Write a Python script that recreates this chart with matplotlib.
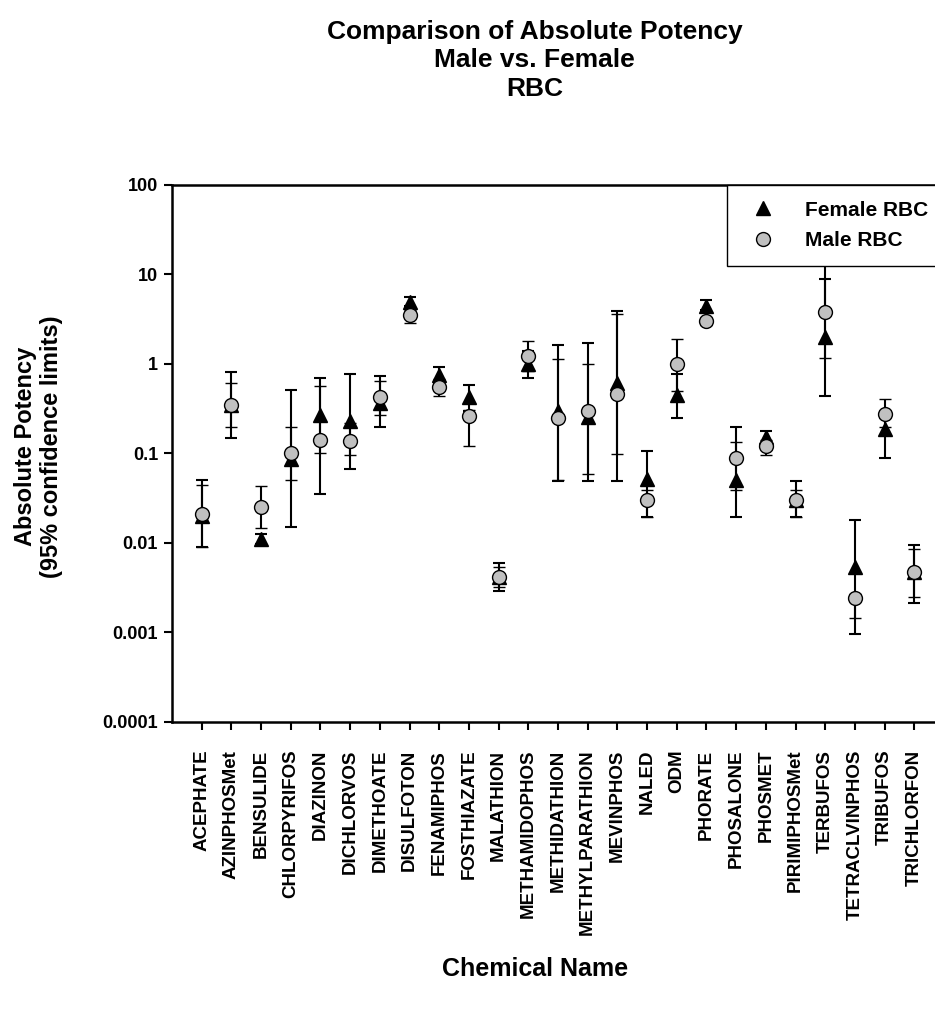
import matplotlib
matplotlib.use("Agg")
import matplotlib.pyplot as plt
from matplotlib.lines import Line2D
import numpy as np

plt.rcParams['font.family'] = ['Liberation Sans', 'DejaVu Sans']
plt.rcParams['font.weight'] = 'bold'

# chemicals on the x axis
chemicals = ["ACEPHATE", "AZINPHOSMet", "BENSULIDE", "CHLORPYRIFOS", "DIAZINON",
             "DICHLORVOS", "DIMETHOATE", "DISULFOTON", "FENAMIPHOS", "FOSTHIAZATE",
             "MALATHION", "METHAMIDOPHOS", "METHIDATHION", "METHYLPARATHION", "MEVINPHOS",
             "NALED", "ODM", "PHORATE", "PHOSALONE", "PHOSMET",
             "PIRIMIPHOSMet", "TERBUFOS", "TETRACLVINPHOS", "TRIBUFOS", "TRICHLORFON"]

# female RBC potency and 95% limits
female = [0.020, 0.35, 0.0112, 0.087, 0.27,
          0.233, 0.367, 4.9, 0.76, 0.43,
          0.0042, 1.0, 0.30, 0.254, 0.62,
          0.052, 0.45, 4.5, 0.050, 0.152,
          0.030, 2.0, 0.00535, 0.188, 0.0047]
female_lo = [0.009, 0.15, 0.0098, 0.015, 0.035,
             0.067, 0.20, 4.5, 0.62, 0.30,
             0.0029, 0.69, 0.049, 0.049, 0.049,
             0.0194, 0.25, 4.0, 0.0194, 0.13,
             0.0194, 0.44, 0.00096, 0.088, 0.00214]
female_hi = [0.051, 0.82, 0.0125, 0.51, 0.70,
             0.77, 0.74, 5.6, 0.92, 0.58,
             0.006, 1.41, 1.63, 1.72, 3.88,
             0.108, 0.77, 5.2, 0.196, 0.177,
             0.049, 8.9, 0.0182, 0.25, 0.0095]

# male RBC potency and 95% limits
male = [0.021, 0.35, 0.0255, 0.101, 0.142,
        0.139, 0.425, 3.5, 0.56, 0.26,
        0.0042, 1.22, 0.25, 0.296, 0.46,
        0.030, 1.0, 3.0, 0.089, 0.122,
        0.030, 3.8, 0.00243, 0.276, 0.0047]
male_lo = [0.009, 0.20, 0.0146, 0.05, 0.10,
           0.095, 0.27, 2.9, 0.435, 0.12,
           0.0032, 0.84, 0.05, 0.059, 0.099,
           0.0194, 0.50, 2.7, 0.039, 0.096,
           0.0194, 1.16, 0.00145, 0.20, 0.00251]
male_hi = [0.0445, 0.61, 0.043, 0.20, 0.57,
           0.22, 0.65, 4.0, 0.68, 0.31,
           0.00535, 1.79, 1.13, 1.0, 3.62,
           0.039, 1.9, 3.3, 0.133, 0.14,
           0.039, 14.0, 0.0027, 0.41, 0.0086]

x = np.arange(1, len(chemicals) + 1)
female = np.array(female)
male = np.array(male)
f_err = [female - np.array(female_lo), np.array(female_hi) - female]
m_err = [male - np.array(male_lo), np.array(male_hi) - male]

fig = plt.figure(figsize=(9.35, 10.11), dpi=100)
ax = fig.add_axes([0.18396, 0.28586, 0.82567, 0.53116])

ax.errorbar(x, female, yerr=f_err, fmt='^', color='black', ms=9.5,
            ecolor='black', elinewidth=1.5, capsize=4.5, capthick=1.5, zorder=3)
ax.errorbar(x, male, yerr=m_err, fmt='o', mfc='#c0c0c0', mec='black', mew=1.0, ms=10,
            ecolor='black', elinewidth=1.5, capsize=4.5, capthick=1.5, zorder=4)

ax.set_yscale('log')
ax.set_ylim(1e-4, 100)
ax.set_xlim(0, 26)
ax.set_yticks([1e-4, 1e-3, 1e-2, 1e-1, 1, 10, 100])
ax.set_yticklabels(["0.0001", "0.001", "0.01", "0.1", "1", "10", "100"])
ax.yaxis.set_minor_locator(matplotlib.ticker.NullLocator())
ax.set_xticks(x)
ax.set_xticklabels(chemicals, rotation=90, va='top', ha='center')

ax.tick_params(axis='both', direction='out', length=6, width=1.5)
ax.tick_params(axis='x', pad=14, labelsize=13.5)
ax.tick_params(axis='y', pad=4, labelsize=13)
for lab in ax.get_xticklabels() + ax.get_yticklabels():
    lab.set_fontweight('bold')

for s in ['left', 'bottom', 'top']:
    ax.spines[s].set_linewidth(1.8)
ax.spines['right'].set_visible(False)

handles = [Line2D([], [], ls='none', marker='^', color='black', ms=9.5),
           Line2D([], [], ls='none', marker='o', mfc='#c0c0c0', mec='black', mew=1.0, ms=10)]
leg = ax.legend(handles, ["Female RBC", "Male RBC"], loc='upper right', bbox_to_anchor=(1, 1),
                borderaxespad=0, fancybox=False, framealpha=1, edgecolor='black',
                prop={'weight': 'bold', 'size': 15}, borderpad=0.75, labelspacing=0.55,
                handlelength=2.0, handletextpad=1.0)
leg.get_frame().set_linewidth(1.0)

fig.text(0.572, 0.980, "Comparison of Absolute Potency\nMale vs. Female\nRBC",
         ha='center', va='top', fontsize=19, fontweight='bold', linespacing=1.22)
fig.text(0.572, 0.042, "Chemical Name", ha='center', va='center', fontsize=18, fontweight='bold')
fig.text(0.041, 0.558, "Absolute Potency\n(95% confidence limits)", ha='center', va='center',
         rotation=90, fontsize=17, fontweight='bold', linespacing=1.15)

fig.savefig("out.png", dpi=100)
